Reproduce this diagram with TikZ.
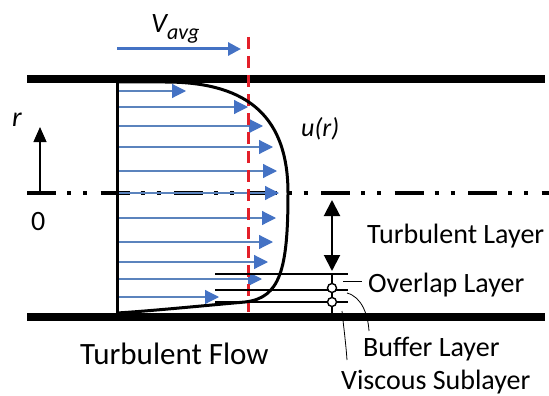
\documentclass[tikz,border=0pt]{standalone}
\usepackage{fontspec}
\setmainfont{Carlito}
\usetikzlibrary{arrows.meta}
\definecolor{vblue}{HTML}{4472C4}
\definecolor{lblue}{HTML}{5B83BD}
\definecolor{vred}{HTML}{E3202A}
\begin{document}
\begin{tikzpicture}[x=1pt,y=-1pt,
  wall/.style={line width=8pt},
  centre/.style={line width=3.6pt,dash pattern=on 29pt off 11pt on 4pt off 12pt on 4pt off 13.5pt},
  varrow/.style={draw=lblue,line width=1.2pt,-{Triangle[length=14pt,width=14pt,fill=vblue,color=vblue]}},
  avgarrow/.style={draw=vblue,line width=3pt,-{Triangle[length=13pt,width=13pt]}},
  avgline/.style={draw=vred,line width=3pt,dash pattern=on 12pt off 7pt},
  profile/.style={line width=3pt},
  layerline/.style={line width=1.4pt},
  lab/.style={inner sep=0pt,anchor=base west,font=\fontsize{28}{30}\selectfont},
  lead/.style={line width=0.8pt},
  dot/.style={circle,draw,fill=white,line width=1.4pt,minimum size=9pt,inner sep=0pt}
]
\useasboundingbox (0,0) rectangle (549,396);
% walls and centre line
\draw[wall] (27,79) -- (545,79);
\draw[wall] (27,317) -- (545,317);
\draw[centre] (27,193) -- (549,193);
% velocity arrows
\foreach \y/\t in {91/186,107/248,126/263,147/273,171/277,193/279,218/276,242/273,262/268,279/262,297/219}
  \draw[varrow] (117,\y) -- (\t,\y);
% average velocity
\draw[avgline] (248,37) -- (248,312);
\coordinate (va0) at (117,49);
\coordinate (va1) at (241,49);
\draw[avgarrow] (va0) -- (va1);
\node[lab,font=\fontsize{28}{30}\selectfont\itshape] (vavg) at (151,33) {V\raisebox{-7pt}{\fontsize{22}{24}\selectfont avg}};
% profile
\draw[profile] (117,79) -- (117,317);
\draw[profile] (117,82) -- (165,82) .. controls (240,82) and (288,110) .. (288,193)
  .. controls (288,270) and (280,298) .. (245,302)
  .. controls (200,306) and (150,311) .. (117,313);
\node[lab,font=\fontsize{26}{28}\selectfont\itshape] (ur) at (301,136) {u(r)};
% r axis
\coordinate (r0) at (40,193);
\coordinate (r1) at (40,127);
\draw[line width=1.2pt,-{Triangle[length=15pt,width=13pt]}] (r0) -- (r1);
\node[lab,font=\fontsize{28}{30}\selectfont\itshape] (rl) at (12,126) {r};
\node[lab] (zero) at (31,230) {0};
% layers
\coordinate (ta) at (332,200);
\coordinate (tb) at (332,271);
\draw[line width=2pt,{Triangle[length=16pt,width=16pt]}-{Triangle[length=16pt,width=16pt]}] (ta) -- (tb);
\foreach \y/\n in {274/l1,290/l2,302/l3}{
  \coordinate (\n a) at (215,\y);
  \coordinate (\n b) at (348,\y);
  \draw[layerline] (\n a) -- (\n b);
}
\coordinate (vtop) at (332,273);
\coordinate (vbot) at (332,317);
\draw[layerline] (vtop) -- (vbot);
\node[dot] (c1) at (332,288) {};
\node[dot] (c2) at (332,302) {};
\node[lab] (turb) at (367,243) {Turbulent Layer};
\node[lab] (over) at (368,292) {Overlap Layer};
\node[lab] (buff) at (363,356) {Buffer Layer};
\node[lab] (visc) at (341,389) {Viscous Sublayer};
\node[lab,font=\fontsize{31}{33}\selectfont] (flow) at (80,364) {Turbulent Flow};
% leaders
\coordinate (o0) at (343,281);
\coordinate (o1) at (362,281);
\draw[lead] (o0) -- (o1);
\coordinate (b0) at (347,293);
\coordinate (b1) at (369,331);
\draw[lead] (b0) .. controls (362,297) and (368,315) .. (b1);
\coordinate (s0) at (342,311);
\coordinate (s1) at (347,360);
\draw[lead] (s0) .. controls (344,330) and (346,345) .. (s1);
\end{tikzpicture}
\end{document}
